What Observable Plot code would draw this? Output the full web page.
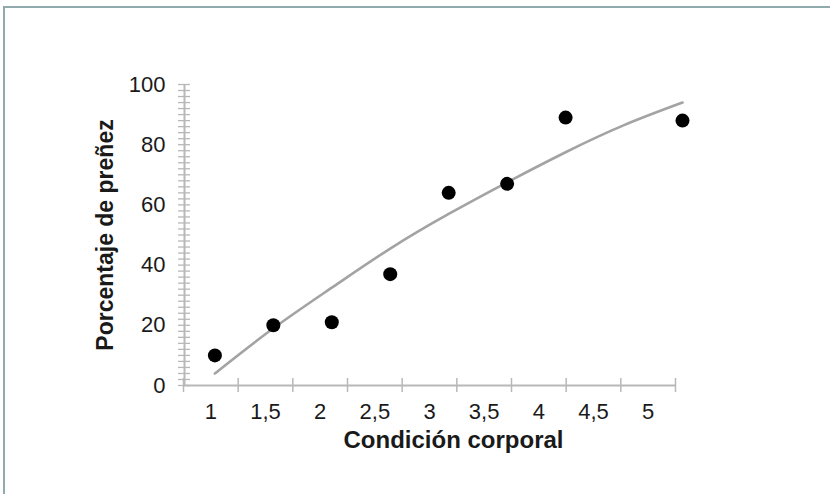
<!DOCTYPE html>
<html><head><meta charset="utf-8">
<script src="https://cdn.jsdelivr.net/npm/d3@7"></script>
<script src="https://cdn.jsdelivr.net/npm/@observablehq/plot@0.6"></script>
<style>
html,body{margin:0;padding:0;background:#fff;overflow:hidden}
#wrap{position:relative;width:830px;height:494px;}
#frame{position:absolute;left:3px;top:6px;width:840px;height:500px;border-top:2px solid #90aaae;border-left:2px solid #90aaae;}
#wrap svg{position:absolute;left:0;top:0;background:transparent;overflow:visible;}
</style></head><body><div id="wrap"><div id="frame"></div></div>
<script>
// Data points
const condicion = [1, 1.5, 2, 2.5, 3, 3.5, 4, 5];
const prenez = [10, 20, 21, 37, 64, 67, 89, 88];
// Trend line
const curveX = [1, 1.5, 2, 2.5, 3, 3.5, 4, 4.5, 5];
const curveY = [4, 19, 32.5, 45.5, 57, 67.5, 77.5, 86.5, 94];
// Axis labels
const xTickLabels = ["1", "1,5", "2", "2,5", "3", "3,5", "4", "4,5", "5"];
const yTicks = [0, 20, 40, 60, 80, 100];
const yMinorTicks = d3.range(0, 101, 2);
const xTitle = "Condición corporal";
const yTitle = "Porcentaje de preñez";

const font = "'Liberation Sans', Arial, sans-serif";
const axisGray = "#b8b8b8";
const textColor = "#1a1a1a";
const xMin = 0.74;

const main = Plot.plot({
  width: 830, height: 494,
  marginLeft: 184, marginRight: 148, marginTop: 84, marginBottom: 109,
  style: {fontFamily: font, color: textColor, background: "transparent"},
  x: {domain: [xMin, 5], axis: null},
  y: {domain: [0, 100], axis: null},
  marks: [
    Plot.axisY({ticks: yMinorTicks, tickSize: 12, dx: 6, tickFormat: () => "", label: null, stroke: axisGray, strokeWidth: 1.3}),
    Plot.ruleX([xMin], {y1: 0, y2: 100, stroke: axisGray, strokeWidth: 2}),
    Plot.axisY({ticks: yTicks, tickSize: 0, tickPadding: 19, label: null, fontSize: 22, fill: textColor}),
    Plot.text([yTitle], {frameAnchor: "left", textAnchor: "middle", lineAnchor: "middle", rotate: -90, dx: -79, fontSize: 23, fontWeight: "bold", fill: textColor}),
    Plot.line(curveX.map((x, i) => ({x, y: curveY[i]})), {x: "x", y: "y", curve: "natural", stroke: "#a3a3a3", strokeWidth: 2.6}),
    Plot.dot(condicion.map((x, i) => ({x, y: prenez[i]})), {x: "x", y: "y", r: 7, fill: "#000"})
  ]
});

const overlay = Plot.plot({
  width: 830, height: 494,
  marginLeft: 183, marginRight: 155, marginTop: 84, marginBottom: 109,
  style: {fontFamily: font, color: textColor, background: "transparent"},
  x: {domain: [0, xTickLabels.length], axis: null},
  y: {domain: [0, 100], axis: null},
  marks: [
    Plot.ruleY([0], {x1: 0, x2: xTickLabels.length, stroke: axisGray, strokeWidth: 2}),
    Plot.axisX({ticks: d3.range(0, xTickLabels.length + 1), tickSize: 14, dy: -7, tickFormat: () => "", label: null, stroke: axisGray, strokeWidth: 1.5}),
    Plot.axisX({ticks: xTickLabels.map((d, i) => i + 0.5), tickSize: 0, tickPadding: 18, label: null, fontSize: 22, fill: textColor,
      tickFormat: (d) => xTickLabels[Math.floor(d)]}),
    Plot.text([xTitle], {frameAnchor: "bottom", lineAnchor: "middle", dy: 55, dx: 24, fontSize: 24, fontWeight: "bold", fill: textColor})
  ]
});

const wrap = document.getElementById("wrap");
wrap.appendChild(main);
wrap.appendChild(overlay);
</script></body></html>
